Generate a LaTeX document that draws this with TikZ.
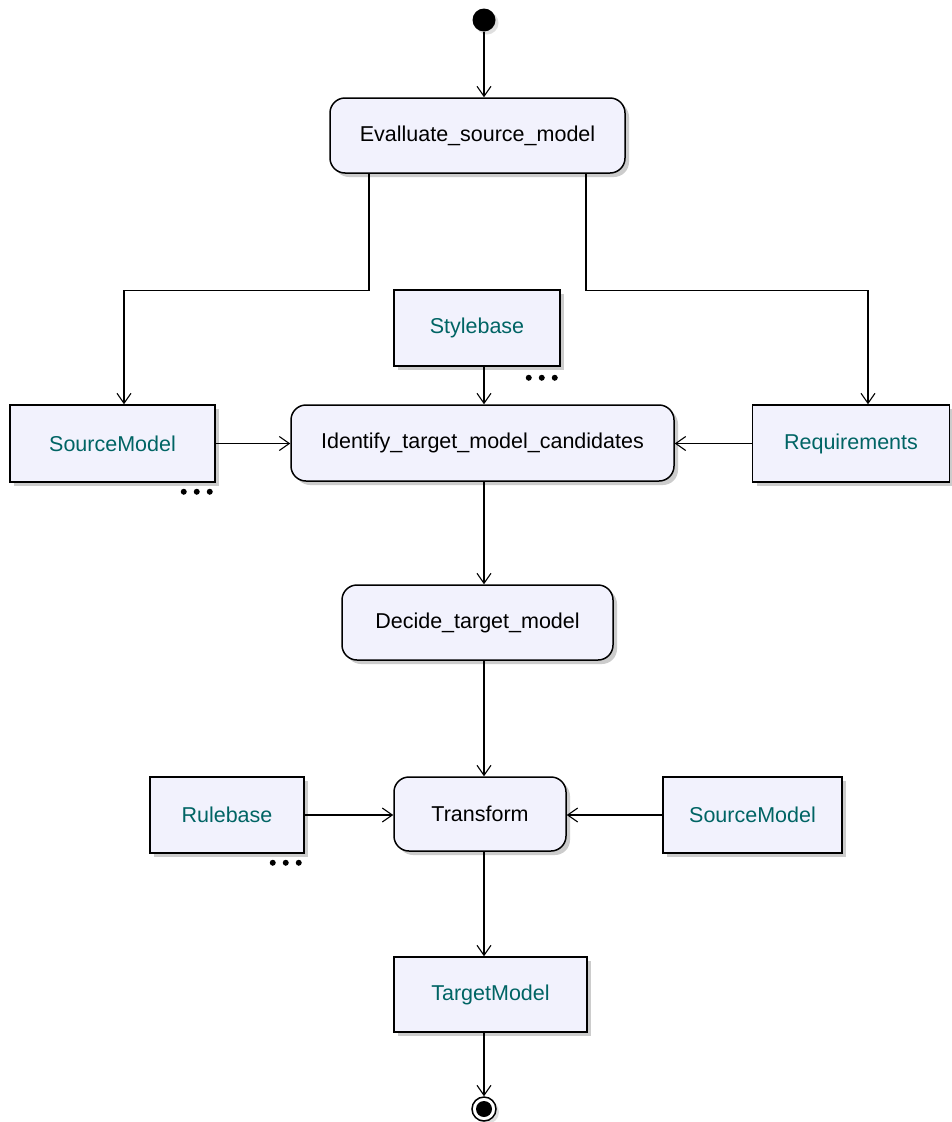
\documentclass[tikz,border=0pt]{standalone}
\usepackage{fontspec}
\setmainfont{Liberation Sans}
\usetikzlibrary{arrows.meta,shadows,calc}
\definecolor{boxfill}{RGB}{242,242,253}
\definecolor{objtext}{RGB}{0,100,100}
\begin{document}
\begin{tikzpicture}[x=1pt,y=-1pt,
  base/.style={draw=black,line width=1.5pt,fill=boxfill,inner sep=0pt,
    font=\fontsize{21.5}{25}\selectfont,
    drop shadow={shadow xshift=4pt,shadow yshift=-4pt,fill=black!25,opacity=0.8}},
  action/.style={base,rounded corners=15pt,text=black},
  object/.style={base,text=objtext},
  arr/.style={line width=1.3pt,-{Straight Barb[length=10pt,width=14pt,line width=1.1pt]}},
  dot/.style={fill=black}]
\useasboundingbox (0,0) rectangle (951,1122);
% start
\node[circle,fill=black,minimum size=23pt,inner sep=0pt,
  drop shadow={shadow xshift=3pt,shadow yshift=-3pt,fill=black!25}] (start) at (484,20) {};
% nodes
\node[action,minimum width=295pt,minimum height=75pt] (eval) at (477.5,135.5) {Evalluate\_source\_model};
\node[object,minimum width=166pt,minimum height=76pt] (style) at (477,328) {Stylebase};
\node[object,minimum width=205pt,minimum height=77pt] (src1) at (112.5,443.5) {SourceModel};
\node[action,minimum width=383pt,minimum height=76pt] (ident) at (482.5,443) {Identify\_target\_model\_candidates};
\node[object,minimum width=197pt,minimum height=77pt] (req) at (851,443.5) {Requirements};
\node[action,minimum width=271pt,minimum height=75pt] (decide) at (477.5,622.5) {Decide\_target\_model};
\node[object,minimum width=154pt,minimum height=76pt] (rule) at (227,815) {Rulebase};
\node[action,minimum width=172pt,minimum height=74pt] (trans) at (480,814) {Transform};
\node[object,minimum width=179pt,minimum height=76pt] (src2) at (752.5,815) {SourceModel};
\node[object,minimum width=193pt,minimum height=75pt] (target) at (490.5,994.5) {TargetModel};
% end
\node[circle,draw=black,line width=1.5pt,fill=white,minimum size=24pt,inner sep=0pt,
  drop shadow={shadow xshift=3pt,shadow yshift=-3pt,fill=black!25}] (end) at (484,1109) {};
\fill (end.center) circle (8);
% dots
\foreach \d in {-32,-19,-6}{
  \fill ([xshift=\d pt,yshift=-9pt]src1.south east) circle (3);
  \fill ([xshift=\d pt,yshift=-11pt]style.south east) circle (3);
  \fill ([xshift=\d pt,yshift=-9pt]rule.south east) circle (3);
}
% connectors
\draw[arr] (start) -- (eval.north -| start);
\draw[arr] ([xshift=-108.5pt]eval.south) -- ++(0,117) -| ([xshift=11.5pt]src1.north);
\draw[arr] ([xshift=108.5pt]eval.south) -- ++(0,117) -| ([xshift=17pt]req.north);
\draw[arr] (style.south -| start) -- (ident.north -| start);
\draw[arr] (src1.east) -- (src1.east -| ident.west);
\draw[arr] (req.west) -- (req.west -| ident.east);
\draw[arr] (ident.south -| start) -- (decide.north -| start);
\draw[arr] (decide.south -| start) -- (trans.north -| start);
\draw[arr] (rule.east) -- (rule.east -| trans.west);
\draw[arr] (src2.west) -- (src2.west -| trans.east);
\draw[arr] (trans.south -| start) -- (target.north -| start);
\draw[arr] (target.south -| start) -- (end);
\end{tikzpicture}
\end{document}
